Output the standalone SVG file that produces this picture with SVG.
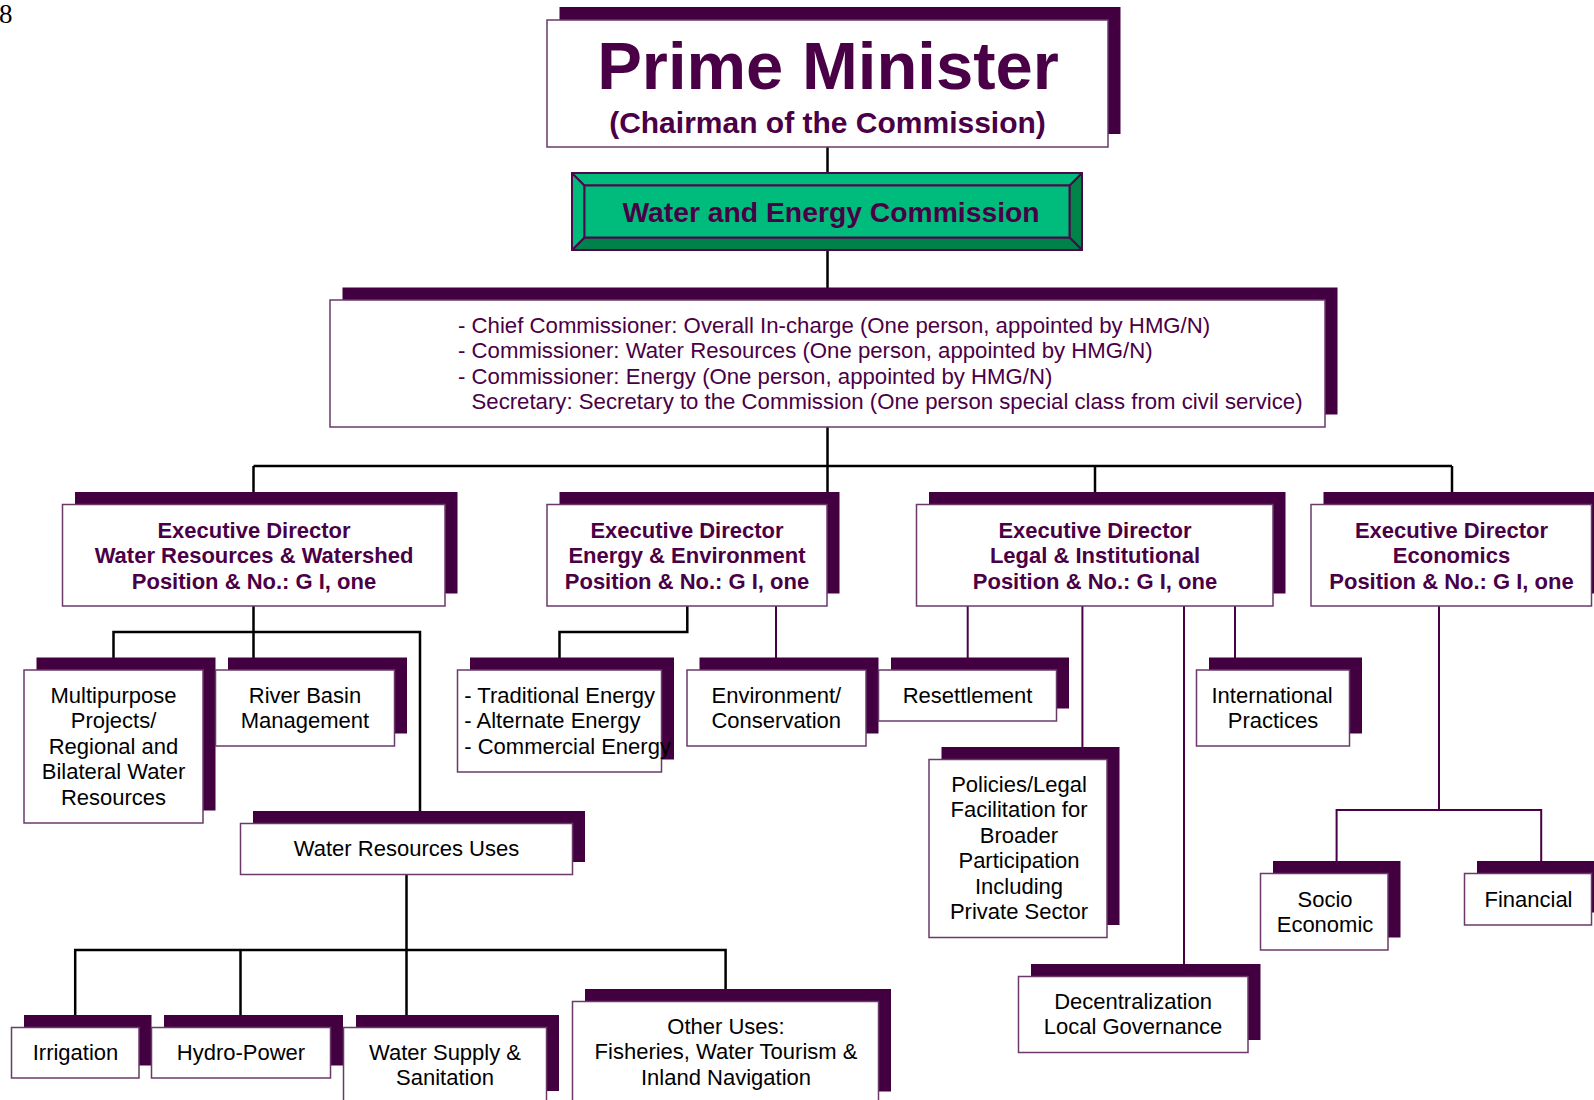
<svg xmlns="http://www.w3.org/2000/svg" width="1594" height="1100" viewBox="0 0 1594 1100">
  <style>
    .shadow { fill: #420040; }
    .box { fill: #ffffff; stroke: #6b3a6b; stroke-width: 1.5; }
    .head { font-family: "Liberation Sans", Arial, sans-serif; font-weight: bold; fill: #4a0046; text-anchor: middle; }
    .ed { font-size: 22px; }
    .label { font-family: "Liberation Sans", Arial, sans-serif; font-size: 22px; fill: #000000; text-anchor: middle; }
    .left { text-anchor: start; }
    .members { font-family: "Liberation Sans", Arial, sans-serif; font-size: 22.2px; fill: #4a0046; }
    .link { fill: none; stroke: #000000; stroke-width: 2.5; }
    .plink { fill: none; stroke: #4a0046; stroke-width: 2; }
    .bevel { stroke: #4a0a4a; stroke-width: 2; stroke-linejoin: round; }
  </style>

  <!-- page number -->
  <text x="-1" y="22.5" font-family="'Liberation Serif', 'Times New Roman', serif" font-size="27" fill="#000000">8</text>

  <!-- connectors -->
  <g id="connectors">
    <path class="link" d="M827.5,147 V173"/>
    <path class="link" d="M827.5,250 V288"/>
    <path class="link" d="M827.5,427 V492"/>
    <path class="link" d="M253.5,466 H1452"/>
    <path class="link" d="M253.5,466 V492"/>
    <path class="link" d="M1095,466 V492"/>
    <path class="link" d="M1452,466 V492"/>
    <!-- water resources & watershed -->
    <path class="link" d="M253.5,606 V658"/>
    <path class="link" d="M113.5,658 V632 H420 V811"/>
    <!-- energy & environment -->
    <path class="link" d="M687.3,606 V632 H559.5 V658"/>
    <path class="plink" d="M776,606 V658"/>
    <!-- legal & institutional -->
    <path class="plink" d="M967.7,606 V658"/>
    <path class="plink" d="M1082.4,606 V747"/>
    <path class="plink" d="M1184,606 V964"/>
    <path class="plink" d="M1235,606 V658"/>
    <!-- economics -->
    <path class="plink" d="M1439,606 V810"/>
    <path class="plink" d="M1336.6,862 V810 H1541.2 V862"/>
    <!-- water resources uses -->
    <path class="link" d="M406.5,874.5 V1015"/>
    <path class="link" d="M75.2,1015 V950 H725.6 V990"/>
    <path class="link" d="M240.5,950 V1015"/>
  </g>

  <g id="prime-minister">
    <rect class="shadow" x="559.5" y="7" width="561" height="127"/>
    <rect class="box" x="547" y="20" width="561" height="127"/>
    <text class="head" x="828" y="89" font-size="67" fill="#3f003f">Prime Minister</text>
    <text class="head" x="827.5" y="133" font-size="30">(Chairman of the Commission)</text>
  </g>

  <g id="commission">
    <rect x="572" y="173" width="510" height="77" fill="#00bc7c"/>
    <polygon points="1082,173 1069.5,185.5 1069.5,237.5 1082,250" fill="#00844a" class="bevel"/>
    <polygon points="572,250 584.5,237.5 1069.5,237.5 1082,250" fill="#00804a" class="bevel"/>
    <polygon points="572,173 584.5,185.5 584.5,237.5 572,250" fill="#00bc7c" class="bevel"/>
    <polygon points="572,173 1082,173 1069.5,185.5 584.5,185.5" fill="#00bc7c" class="bevel"/>
    <rect x="584.5" y="185.5" width="485" height="52" fill="#00bc7c" class="bevel"/>
    <rect x="572" y="173" width="510" height="77" fill="none" class="bevel"/>
    <text class="head" x="831" y="221.5" font-size="28.3" fill="#400040">Water and Energy Commission</text>
  </g>

  <g id="commissioners">
    <rect class="shadow" x="342.5" y="287.5" width="995" height="127"/>
    <rect class="box" x="330" y="300" width="995" height="127"/>
    <text class="members" x="458" y="333">- Chief Commissioner: Overall In-charge (One person, appointed by HMG/N)</text>
    <text class="members" x="458" y="358.3">- Commissioner: Water Resources (One person, appointed by HMG/N)</text>
    <text class="members" x="458" y="383.6">- Commissioner: Energy (One person, appointed by HMG/N)</text>
    <text class="members" x="471.5" y="409">Secretary: Secretary to the Commission (One person special class from civil service)</text>
  </g>

  <g id="ed-water">
    <rect class="shadow" x="75" y="492" width="382.5" height="101.5"/>
    <rect class="box" x="62.5" y="504.5" width="382.5" height="101.5"/>
    <text class="head ed" x="254" y="537.5">Executive Director</text>
    <text class="head ed" x="254" y="563">Water Resources &amp; Watershed</text>
    <text class="head ed" x="254" y="588.5">Position &amp; No.: G I, one</text>
  </g>

  <g id="ed-energy">
    <rect class="shadow" x="559.5" y="492" width="280" height="101.5"/>
    <rect class="box" x="547" y="504.5" width="280" height="101.5"/>
    <text class="head ed" x="687" y="537.5">Executive Director</text>
    <text class="head ed" x="687" y="563">Energy &amp; Environment</text>
    <text class="head ed" x="687" y="588.5">Position &amp; No.: G I, one</text>
  </g>

  <g id="ed-legal">
    <rect class="shadow" x="929" y="492" width="356.5" height="101.5"/>
    <rect class="box" x="916.5" y="504.5" width="356.5" height="101.5"/>
    <text class="head ed" x="1095" y="537.5">Executive Director</text>
    <text class="head ed" x="1095" y="563">Legal &amp; Institutional</text>
    <text class="head ed" x="1095" y="588.5">Position &amp; No.: G I, one</text>
  </g>

  <g id="ed-economics">
    <rect class="shadow" x="1323.5" y="492" width="280.5" height="101.5"/>
    <rect class="box" x="1311" y="504.5" width="280.5" height="101.5"/>
    <text class="head ed" x="1451.5" y="537.5">Executive Director</text>
    <text class="head ed" x="1451.5" y="563">Economics</text>
    <text class="head ed" x="1451.5" y="588.5">Position &amp; No.: G I, one</text>
  </g>

  <g id="multipurpose">
    <rect class="shadow" x="36.5" y="657.5" width="179" height="153"/>
    <rect class="box" x="24" y="670" width="179" height="153"/>
    <text class="label" x="113.5" y="703">Multipurpose</text>
    <text class="label" x="113.5" y="728.4">Projects/</text>
    <text class="label" x="113.5" y="753.8">Regional and</text>
    <text class="label" x="113.5" y="779.2">Bilateral Water</text>
    <text class="label" x="113.5" y="804.6">Resources</text>
  </g>

  <g id="river-basin">
    <rect class="shadow" x="228" y="657.5" width="179" height="76"/>
    <rect class="box" x="215.5" y="670" width="179" height="76"/>
    <text class="label" x="305" y="703">River Basin</text>
    <text class="label" x="305" y="728">Management</text>
  </g>

  <g id="energy-types">
    <rect class="shadow" x="470" y="657.5" width="204" height="102"/>
    <rect class="box" x="457.5" y="670" width="204" height="102"/>
    <text class="label left" x="464.3" y="703">- Traditional Energy</text>
    <text class="label left" x="464.3" y="728">- Alternate Energy</text>
    <text class="label left" x="464.3" y="753.5">- Commercial Energy</text>
  </g>

  <g id="environment">
    <rect class="shadow" x="699.5" y="657.5" width="179" height="76"/>
    <rect class="box" x="687" y="670" width="179" height="76"/>
    <text class="label" x="776.3" y="703">Environment/</text>
    <text class="label" x="776.3" y="728">Conservation</text>
  </g>

  <g id="resettlement">
    <rect class="shadow" x="891" y="657.5" width="178" height="51"/>
    <rect class="box" x="878.5" y="670" width="178" height="51"/>
    <text class="label" x="967.5" y="703">Resettlement</text>
  </g>

  <g id="international">
    <rect class="shadow" x="1209" y="657.5" width="153" height="76"/>
    <rect class="box" x="1196.5" y="670" width="153" height="76"/>
    <text class="label" x="1272" y="703">International</text>
    <text class="label" x="1273" y="728">Practices</text>
  </g>

  <g id="policies">
    <rect class="shadow" x="941.5" y="747" width="178" height="178"/>
    <rect class="box" x="929" y="759.5" width="178" height="178"/>
    <text class="label" x="1019" y="792">Policies/Legal</text>
    <text class="label" x="1019" y="817.4">Facilitation for</text>
    <text class="label" x="1019" y="842.8">Broader</text>
    <text class="label" x="1019" y="868.2">Participation</text>
    <text class="label" x="1019" y="893.6">Including</text>
    <text class="label" x="1019" y="919">Private Sector</text>
  </g>

  <g id="decentralization">
    <rect class="shadow" x="1031" y="964" width="229.5" height="76"/>
    <rect class="box" x="1018.5" y="976.5" width="229.5" height="76"/>
    <text class="label" x="1133" y="1009">Decentralization</text>
    <text class="label" x="1133" y="1034">Local Governance</text>
  </g>

  <g id="socio-economic">
    <rect class="shadow" x="1273" y="861" width="127.5" height="76.5"/>
    <rect class="box" x="1260.5" y="873.5" width="127.5" height="76.5"/>
    <text class="label" x="1325" y="907">Socio</text>
    <text class="label" x="1325" y="932">Economic</text>
  </g>

  <g id="financial">
    <rect class="shadow" x="1477" y="861" width="127" height="51.5"/>
    <rect class="box" x="1464.5" y="873.5" width="127" height="51.5"/>
    <text class="label" x="1528.5" y="907">Financial</text>
  </g>

  <g id="water-uses">
    <rect class="shadow" x="253" y="811" width="332" height="51"/>
    <rect class="box" x="240.5" y="823.5" width="332" height="51"/>
    <text class="label" x="406.5" y="856">Water Resources Uses</text>
  </g>

  <g id="irrigation">
    <rect class="shadow" x="24" y="1015" width="127.5" height="50.5"/>
    <rect class="box" x="11.5" y="1027.5" width="127.5" height="50.5"/>
    <text class="label" x="75.5" y="1060">Irrigation</text>
  </g>

  <g id="hydro-power">
    <rect class="shadow" x="164" y="1015" width="179" height="50.5"/>
    <rect class="box" x="151.5" y="1027.5" width="179" height="50.5"/>
    <text class="label" x="241" y="1060">Hydro-Power</text>
  </g>

  <g id="water-supply">
    <rect class="shadow" x="356" y="1015" width="203" height="76"/>
    <rect class="box" x="343.5" y="1027.5" width="203" height="76"/>
    <text class="label" x="445" y="1060">Water Supply &amp;</text>
    <text class="label" x="445" y="1084.5">Sanitation</text>
  </g>

  <g id="other-uses">
    <rect class="shadow" x="585" y="989" width="306" height="102.5"/>
    <rect class="box" x="572.5" y="1001.5" width="306" height="102.5"/>
    <text class="label" x="726" y="1033.5">Other Uses:</text>
    <text class="label" x="726" y="1059">Fisheries, Water Tourism &amp;</text>
    <text class="label" x="726" y="1084.5">Inland Navigation</text>
  </g>
</svg>
